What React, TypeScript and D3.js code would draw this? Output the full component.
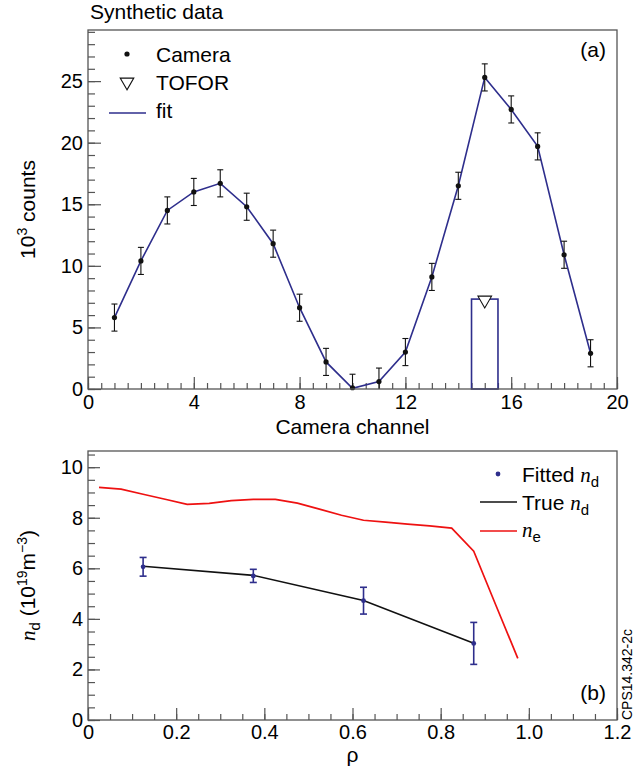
import { useEffect, useRef } from "react";
import * as d3 from "d3";

// panel (a): camera channels
const channels = [1, 2, 3, 4, 5, 6, 7, 8, 9, 10, 11, 12, 13, 14, 15, 16, 17, 18, 19];
const cameraCounts = [5.8, 10.4, 14.5, 16.0, 16.7, 14.8, 11.8, 6.6, 2.2, 0.1, 0.6, 3.0, 9.1, 16.5, 25.3, 22.7, 19.7, 10.9, 2.9];
const cameraErrors = [1.1, 1.1, 1.1, 1.1, 1.1, 1.1, 1.1, 1.1, 1.1, 1.1, 1.1, 1.1, 1.1, 1.1, 1.1, 1.1, 1.1, 1.1, 1.1];
const fitCounts = [5.8, 10.4, 14.5, 16.0, 16.7, 14.8, 11.8, 6.6, 2.2, 0.05, 0.6, 3.0, 9.1, 16.5, 25.3, 22.7, 19.7, 10.9, 2.9];
const toforChannel = [15];
const toforCounts = [7.3];
const xTicksA = [0, 4, 8, 12, 16, 20];
const yTicksA = [0, 5, 10, 15, 20, 25];

// panel (b): density profiles
const rhoFit = [0.125, 0.375, 0.625, 0.875];
const ndFit = [6.06, 5.7, 4.72, 3.03];
const ndErr = [0.37, 0.26, 0.53, 0.83];
const rhoTrue = [0.125, 0.375, 0.625, 0.875];
const ndTrue = [6.08, 5.72, 4.73, 3.04];
const rhoNe = [0.025, 0.075, 0.125, 0.175, 0.225, 0.275, 0.325, 0.375, 0.425, 0.475, 0.525, 0.575, 0.625, 0.675, 0.725, 0.775, 0.825, 0.875, 0.925, 0.975];
const ne = [9.2, 9.13, 8.93, 8.73, 8.53, 8.57, 8.68, 8.73, 8.73, 8.58, 8.34, 8.1, 7.9, 7.83, 7.75, 7.68, 7.59, 6.68, 4.55, 2.44];
const xTicksB = [0, 0.2, 0.4, 0.6, 0.8, 1.0, 1.2];
const yTicksB = [0, 2, 4, 6, 8, 10];

const FONT = "'Liberation Sans', Arial, Helvetica, sans-serif";
const SERIF = "'Liberation Serif', 'Times New Roman', serif";
const NAVY = "#2e2e8c";
const RED = "#ee1111";
const FRAME = "#555";

export default function App() {
  const ref = useRef<SVGSVGElement>(null);

  useEffect(() => {
    const svg = d3.select(ref.current);
    svg.selectAll("*").remove();

    const left = 88, right = 617;

    function styleAxis(g: any) {
      g.select(".domain").remove();
      g.attr("font-size", 20).attr("font-family", FONT);
      g.selectAll("line").attr("stroke", FRAME).attr("stroke-width", 1.2);
      g.selectAll("text").attr("fill", "#000");
    }

    function frame(top: number, bottom: number) {
      svg.append("rect")
        .attr("x", left).attr("y", top)
        .attr("width", right - left).attr("height", bottom - top)
        .attr("fill", "none").attr("stroke", FRAME).attr("stroke-width", 1.3);
    }

    // ---------- panel (a) ----------
    const topA = 30, botA = 389;
    const xA = d3.scaleLinear().domain([0, 20]).range([left, right]);
    const yA = d3.scaleLinear().domain([0, 29.15]).range([botA, topA]);

    svg.append("g").attr("transform", `translate(0,${botA})`)
      .call(d3.axisBottom(xA).tickValues(d3.range(0, 20.01, 0.5)).tickSize(-6).tickFormat(() => ""))
      .call(styleAxis);
    svg.append("g").attr("transform", `translate(0,${botA})`)
      .call(d3.axisBottom(xA).tickValues(xTicksA).tickSizeInner(-12).tickSizeOuter(0).tickPadding(6).tickFormat(d3.format("d")))
      .call(styleAxis);
    svg.append("g").attr("transform", `translate(${left},0)`)
      .call(d3.axisLeft(yA).tickValues(d3.range(0, 29.1, 1)).tickSize(-7).tickFormat(() => ""))
      .call(styleAxis);
    svg.append("g").attr("transform", `translate(${left},0)`)
      .call(d3.axisLeft(yA).tickValues(yTicksA).tickSizeInner(-13).tickSizeOuter(0).tickPadding(5).tickFormat(d3.format("d")))
      .call(styleAxis);

    // TOFOR bar
    toforChannel.forEach((c, i) => {
      svg.append("rect")
        .attr("x", xA(c - 0.5)).attr("y", yA(toforCounts[i]))
        .attr("width", xA(c + 0.5) - xA(c - 0.5)).attr("height", yA(0) - yA(toforCounts[i]))
        .attr("fill", "none").attr("stroke", NAVY).attr("stroke-width", 1.6);
    });

    // fit line
    svg.append("path")
      .attr("d", d3.line<number>().x((_, i) => xA(channels[i])).y(d => yA(d))(fitCounts))
      .attr("fill", "none").attr("stroke", NAVY).attr("stroke-width", 1.6);

    // camera points with error bars
    channels.forEach((c, i) => {
      const x = xA(c);
      const y1 = yA(Math.max(0, cameraCounts[i] - cameraErrors[i]));
      const y2 = yA(cameraCounts[i] + cameraErrors[i]);
      svg.append("line").attr("x1", x).attr("x2", x).attr("y1", y1).attr("y2", y2)
        .attr("stroke", "#111").attr("stroke-width", 1.1);
      svg.append("line").attr("x1", x - 3).attr("x2", x + 3).attr("y1", y2).attr("y2", y2)
        .attr("stroke", "#111").attr("stroke-width", 1.1);
      if (cameraCounts[i] - cameraErrors[i] > 0) {
        svg.append("line").attr("x1", x - 3).attr("x2", x + 3).attr("y1", y1).attr("y2", y1)
          .attr("stroke", "#111").attr("stroke-width", 1.1);
      }
      svg.append("circle").attr("cx", x).attr("cy", yA(cameraCounts[i])).attr("r", 2.6).attr("fill", "#111");
    });

    const tri = d3.symbol().type(d3.symbolTriangle).size(80);
    toforChannel.forEach((c, i) => {
      svg.append("path").attr("d", tri())
        .attr("transform", `translate(${xA(c)},${yA(toforCounts[i]) + 1}) rotate(180)`)
        .attr("fill", "#fff").attr("stroke", "#111").attr("stroke-width", 1.1);
    });

    frame(topA, botA);

    // legend (a)
    const la = svg.append("g").attr("font-family", FONT).attr("font-size", 21);
    la.append("circle").attr("cx", 127).attr("cy", 54).attr("r", 2.6).attr("fill", "#111");
    la.append("text").attr("x", 156).attr("y", 62).text("Camera");
    la.append("path").attr("d", tri()).attr("transform", "translate(127,82) rotate(180)")
      .attr("fill", "#fff").attr("stroke", "#111").attr("stroke-width", 1.1);
    la.append("text").attr("x", 156).attr("y", 90).text("TOFOR");
    la.append("line").attr("x1", 109).attr("x2", 146).attr("y1", 113).attr("y2", 113)
      .attr("stroke", NAVY).attr("stroke-width", 1.6);
    la.append("text").attr("x", 156).attr("y", 118).text("fit");
    la.append("text").attr("x", 606).attr("y", 57).attr("text-anchor", "end").text("(a)");

    svg.append("text").attr("x", 90).attr("y", 19)
      .attr("font-family", FONT).attr("font-size", 21).text("Synthetic data");

    svg.append("text").attr("x", (left + right) / 2).attr("y", 434)
      .attr("text-anchor", "middle").attr("font-family", FONT).attr("font-size", 21)
      .text("Camera channel");

    const ta = svg.append("text")
      .attr("transform", `translate(35,${(topA + botA) / 2}) rotate(-90)`)
      .attr("text-anchor", "middle").attr("font-family", FONT).attr("font-size", 21);
    ta.append("tspan").text("10");
    ta.append("tspan").attr("font-size", 14).attr("dy", -8).text("3");
    ta.append("tspan").attr("dy", 8).text(" counts");

    // ---------- panel (b) ----------
    const topB = 451, botB = 720;
    const xB = d3.scaleLinear().domain([0, 1.2]).range([left, right]);
    const yB = d3.scaleLinear().domain([0, 10.64]).range([botB, topB]);

    svg.append("g").attr("transform", `translate(0,${botB})`)
      .call(d3.axisBottom(xB).tickValues(d3.range(0, 1.201, 0.05)).tickSize(-6).tickFormat(() => ""))
      .call(styleAxis);
    svg.append("g").attr("transform", `translate(0,${botB})`)
      .call(d3.axisBottom(xB).tickValues(xTicksB).tickSizeInner(-12).tickSizeOuter(0).tickPadding(5)
        .tickFormat((d: any) => (d === 0 ? "0" : d3.format(".1f")(d))))
      .call(styleAxis);
    svg.append("g").attr("transform", `translate(${left},0)`)
      .call(d3.axisLeft(yB).tickValues(d3.range(0, 10.6, 0.5)).tickSize(-7).tickFormat(() => ""))
      .call(styleAxis);
    svg.append("g").attr("transform", `translate(${left},0)`)
      .call(d3.axisLeft(yB).tickValues(yTicksB).tickSizeInner(-12).tickSizeOuter(0).tickPadding(5).tickFormat(d3.format("d")))
      .call(styleAxis);

    svg.append("path")
      .attr("d", d3.line<number>().x((_, i) => xB(rhoNe[i])).y(d => yB(d))(ne))
      .attr("fill", "none").attr("stroke", RED).attr("stroke-width", 1.7);

    svg.append("path")
      .attr("d", d3.line<number>().x((_, i) => xB(rhoTrue[i])).y(d => yB(d))(ndTrue))
      .attr("fill", "none").attr("stroke", "#111").attr("stroke-width", 1.6);

    rhoFit.forEach((r, i) => {
      const x = xB(r);
      const y1 = yB(ndFit[i] - ndErr[i]);
      const y2 = yB(ndFit[i] + ndErr[i]);
      svg.append("line").attr("x1", x).attr("x2", x).attr("y1", y1).attr("y2", y2)
        .attr("stroke", NAVY).attr("stroke-width", 1.6);
      [y1, y2].forEach(y => {
        svg.append("line").attr("x1", x - 3.5).attr("x2", x + 3.5).attr("y1", y).attr("y2", y)
          .attr("stroke", NAVY).attr("stroke-width", 1.6);
      });
      svg.append("circle").attr("cx", x).attr("cy", yB(ndFit[i])).attr("r", 2.4).attr("fill", NAVY);
    });

    frame(topB, botB);

    // legend (b)
    const lb = svg.append("g").attr("font-family", FONT).attr("font-size", 21);
    lb.append("circle").attr("cx", 498).attr("cy", 474).attr("r", 2.4).attr("fill", NAVY);
    const t1 = lb.append("text").attr("x", 522).attr("y", 482);
    t1.append("tspan").text("Fitted ");
    t1.append("tspan").attr("font-family", SERIF).attr("font-style", "italic").text("n");
    t1.append("tspan").attr("font-size", 15).attr("dy", 5).text("d");
    lb.append("line").attr("x1", 480).attr("x2", 517).attr("y1", 502).attr("y2", 502)
      .attr("stroke", "#111").attr("stroke-width", 1.6);
    const t2 = lb.append("text").attr("x", 522).attr("y", 510);
    t2.append("tspan").text("True ");
    t2.append("tspan").attr("font-family", SERIF).attr("font-style", "italic").text("n");
    t2.append("tspan").attr("font-size", 15).attr("dy", 5).text("d");
    lb.append("line").attr("x1", 480).attr("x2", 517).attr("y1", 531).attr("y2", 531)
      .attr("stroke", RED).attr("stroke-width", 1.7);
    const t3 = lb.append("text").attr("x", 522).attr("y", 537);
    t3.append("tspan").attr("font-family", SERIF).attr("font-style", "italic").text("n");
    t3.append("tspan").attr("font-size", 15).attr("dy", 5).text("e");
    lb.append("text").attr("x", 606).attr("y", 700).attr("text-anchor", "end").text("(b)");

    svg.append("text").attr("x", (left + right) / 2).attr("y", 762)
      .attr("text-anchor", "middle").attr("font-family", FONT).attr("font-size", 21).text("ρ");

    const tb = svg.append("text")
      .attr("transform", `translate(35,${(topB + botB) / 2}) rotate(-90)`)
      .attr("text-anchor", "middle").attr("font-family", FONT).attr("font-size", 21);
    tb.append("tspan").attr("font-family", SERIF).attr("font-style", "italic").text("n");
    tb.append("tspan").attr("font-size", 15).attr("dy", 5).text("d");
    tb.append("tspan").attr("dy", -5).text(" (10");
    tb.append("tspan").attr("font-size", 14).attr("dy", -8).text("19");
    tb.append("tspan").attr("dy", 8).text("m");
    tb.append("tspan").attr("font-size", 14).attr("dy", -8).text("−3");
    tb.append("tspan").attr("dy", 8).text(")");

    svg.append("text")
      .attr("transform", `translate(632,720) rotate(-90)`)
      .attr("font-family", FONT).attr("font-size", 14).text("CPS14.342-2c");
  }, []);

  return (
    <svg ref={ref} width={644} height={776}
      style={{ position: "absolute", left: 0, top: 0, background: "#fff" }} />
  );
}
